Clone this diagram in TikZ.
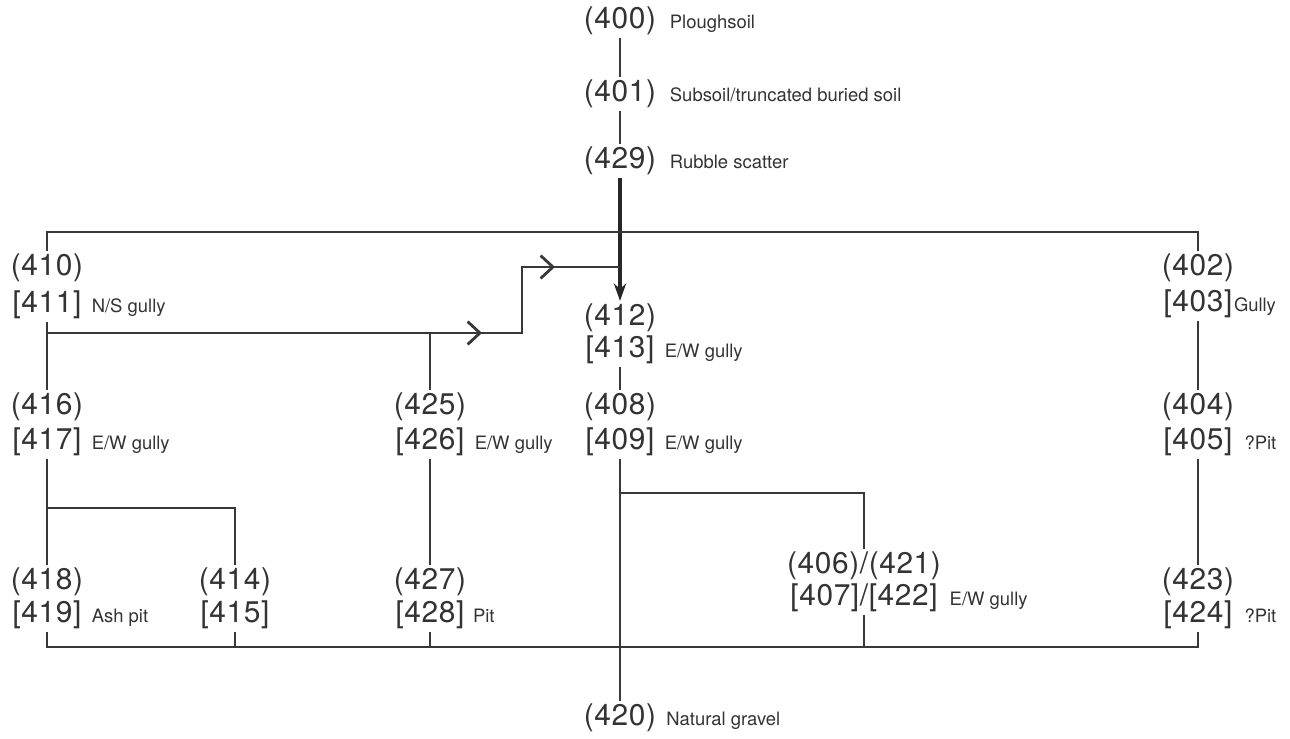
\documentclass[tikz,border=0pt]{standalone}
\usepackage{fontspec}
\setmainfont{TeX Gyre Heros}
\newfontfamily\numfont[LetterSpace=2]{TeX Gyre Heros}
\usetikzlibrary{arrows.meta,positioning}

\tikzset{
  num/.style={font=\numfont\fontsize{17}{18}\selectfont, inner sep=1.5pt, text=black!80},
  desc/.style={font=\fontsize{10.5}{12}\selectfont, inner sep=0pt, anchor=base west, text=black!80},
  link/.style={line width=1.6pt, draw=black!78},
  heavy/.style={line width=2.3pt, draw=black!85},
  chevron/.style={-{Straight Barb[length=7pt,width=13pt,line width=1.6pt]}}
}

\begin{document}
\begin{tikzpicture}[x=0.02cm,y=-0.02cm]
\useasboundingbox (0,0) rectangle (1290,739);
% ----- upper layers -----
\node[num] (n400) at (620,21) {(400)};
\node[desc] (d400) at ([xshift=6pt]n400.base east) {Ploughsoil};
\node[num] (n401) at (620,94) {(401)};
\node[desc] (d401) at ([xshift=6pt]n401.base east) {Subsoil/truncated buried soil};
\node[num] (n429) at (620,161) {(429)};
\node[desc] (d429) at ([xshift=6pt]n429.base east) {Rubble scatter};
% ----- row of cuts under the rubble -----
\node[num] (n410) at (47,268) {(410)};
\node[num] (c411) at (47,305) {[411]};
\node[desc] (d411) at ([xshift=4pt]c411.base east) {N/S gully};
\node[num] (n412) at (620,318) {(412)};
\node[num] (c413) at (620,350) {[413]};
\node[desc] (d413) at ([xshift=4pt]c413.base east) {E/W gully};
\node[num] (n402) at (1198,268) {(402)};
\node[num] (c403) at (1198,304) {[403]};
\node[desc] (d403) at ([xshift=-1pt]c403.base east) {Gully};
% ----- middle row -----
\node[num] (n416) at (47,407) {(416)};
\node[num] (c417) at (47,442) {[417]};
\node[desc] (d417) at ([xshift=4pt]c417.base east) {E/W gully};
\node[num] (n425) at (430,407) {(425)};
\node[num] (c426) at (430,442) {[426]};
\node[desc] (d426) at ([xshift=4pt]c426.base east) {E/W gully};
\node[num] (n408) at (620,407) {(408)};
\node[num] (c409) at (620,442) {[409]};
\node[desc] (d409) at ([xshift=4pt]c409.base east) {E/W gully};
\node[num] (n404) at (1198,407) {(404)};
\node[num] (c405) at (1198,442) {[405]};
\node[desc] (d405) at ([xshift=5pt]c405.base east) {?Pit};
% ----- lower row -----
\node[num] (n418) at (47,582) {(418)};
\node[num] (c419) at (47,615) {[419]};
\node[desc] (d419) at ([xshift=4pt]c419.base east) {Ash pit};
\node[num] (n414) at (235,582) {(414)};
\node[num] (c415) at (235,615) {[415]};
\node[num] (n427) at (430,582) {(427)};
\node[num] (c428) at (430,615) {[428]};
\node[desc] (d428) at ([xshift=3pt]c428.base east) {Pit};
\node[num] (n406) at (864,566) {(406)/(421)};
\node[num] (c407) at (864,598) {[407]/[422]};
\node[desc] (d407) at ([xshift=5pt]c407.base east) {E/W gully};
\node[num] (n423) at (1198,582) {(423)};
\node[num] (c424) at (1198,615) {[424]};
\node[desc] (d424) at ([xshift=5pt]c424.base east) {?Pit};
% ----- natural -----
\node[num] (n420) at (620,718) {(420)};
\node[desc] (d420) at ([xshift=4pt]n420.base east) {Natural gravel};

% junction points
\coordinate (topbus) at (620,232);
\coordinate (nsj) at (47,333);
\coordinate (stepL) at (522,333);
\coordinate (stepT) at (522,267);
\coordinate (join) at (620,267);
\coordinate (tipA) at (482,333);
\coordinate (tipB) at (555,267);
\coordinate (brL) at (47,508);
\coordinate (brR) at (620,493);
\coordinate (botbus) at (620,647);

% ----- connectors -----
\draw[link] (n400) -- (n401);
\draw[link] (n401) -- (n429);
\draw[heavy,-{Stealth[length=10pt,width=7pt]}] (n429) -- (n412);
\draw[link] (n410.north) |- (topbus) -| (n402.north);
\draw[link] (c411) -- (n416);
\draw[link] (nsj) -- (stepL) -- (stepT) -- (join);
\draw[link,chevron] (nsj) -- (tipA);
\draw[link,chevron] (stepT) -- (tipB);
\draw[link] (n425) -- (n425 |- nsj);
\draw[link] (c413) -- (n408);
\draw[link] (c403) -- (n404);
\draw[link] (c405) -- (n423);
\draw[link] (c417) -- (n418);
\draw[link] (brL) -| (n414);
\draw[link] (c426) -- (n427);
\draw[link] (c409) -- (n420);
\draw[link] (brR) -| (n406);
\draw[link] (c419) |- (botbus) -| (c424);
\draw[link] (c415) -- (c415 |- botbus);
\draw[link] (c428) -- (c428 |- botbus);
\draw[link] (c407) -- (c407 |- botbus);
\end{tikzpicture}
\end{document}
